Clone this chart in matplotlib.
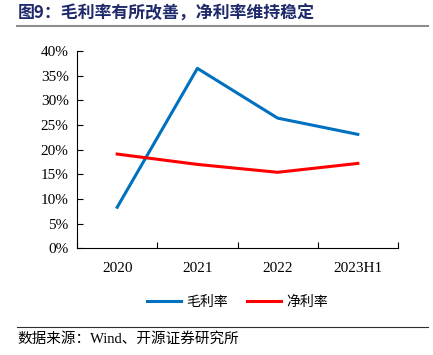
import numpy as np
import matplotlib
matplotlib.use("Agg")
import matplotlib.pyplot as plt
from matplotlib.ticker import FuncFormatter, FixedLocator

# Données (en %)
periodes = ["2020", "2021", "2022", "2023H1"]
marge_brute = [8.3, 36.5, 26.4, 23.1]
marge_nette = [19.1, 17.0, 15.4, 17.2]

cjk = ["Noto Sans CJK SC", "DejaVu Sans"]
serif = ["Liberation Serif", "DejaVu Serif"]

fig = plt.figure(figsize=(4.33, 3.55), dpi=100)
ax = fig.add_axes([0.178, 0.301, 0.741, 0.555])

x = np.arange(len(periodes)) + 0.5
ax.plot(x, marge_brute, color="#0070C0", lw=2.2, label="毛利率")
ax.plot(x, marge_nette, color="#FF0000", lw=2.2, label="净利率")

ax.set_xlim(0, len(periodes))
ax.set_ylim(0, 40)
ax.yaxis.set_major_locator(FixedLocator(np.arange(0, 41, 5)))
ax.yaxis.set_major_formatter(FuncFormatter(lambda v, p: "%d%%" % v))
ax.xaxis.set_major_locator(FixedLocator(np.arange(0, len(periodes) + 1)))
ax.xaxis.set_minor_locator(FixedLocator(x))
ax.set_xticklabels([], minor=False)
ax.set_xticklabels(periodes, minor=True)
ax.tick_params(axis="x", which="minor", length=0, pad=10)
ax.tick_params(axis="both", which="major", direction="in", length=4, width=0.8)
ax.tick_params(axis="y", pad=6)

for lab in ax.get_xticklabels(minor=True) + ax.get_yticklabels():
    lab.set_family(serif)
    lab.set_fontsize(11)

for s in ["top", "right"]:
    ax.spines[s].set_visible(False)
for s in ["left", "bottom"]:
    ax.spines[s].set_linewidth(0.8)

leg = ax.legend(loc="upper center", bbox_to_anchor=(0.5, -0.175), ncol=2,
                frameon=False, prop={"family": cjk, "size": 10},
                handlelength=2.4, columnspacing=1.4, handletextpad=0.4)

# Titre et source
fig.text(0.04, 0.962, "图9：毛利率有所改善，净利率维持稳定", family=cjk,
         fontsize=12.2, fontweight="bold", color="#1F2A6B", va="center")
fig.add_artist(plt.Line2D([0.04, 0.988], [0.928, 0.928], color="#8C8C8C", lw=1.5))
fig.add_artist(plt.Line2D([0.04, 0.988], [0.079, 0.079], color="#303030", lw=0.8))
fig.text(0.04, 0.045, "数据来源：Wind、开源证券研究所",
         family=["Liberation Serif", "Noto Sans CJK SC"], fontsize=10.5, va="center")

fig.savefig("out.png", dpi=100)
